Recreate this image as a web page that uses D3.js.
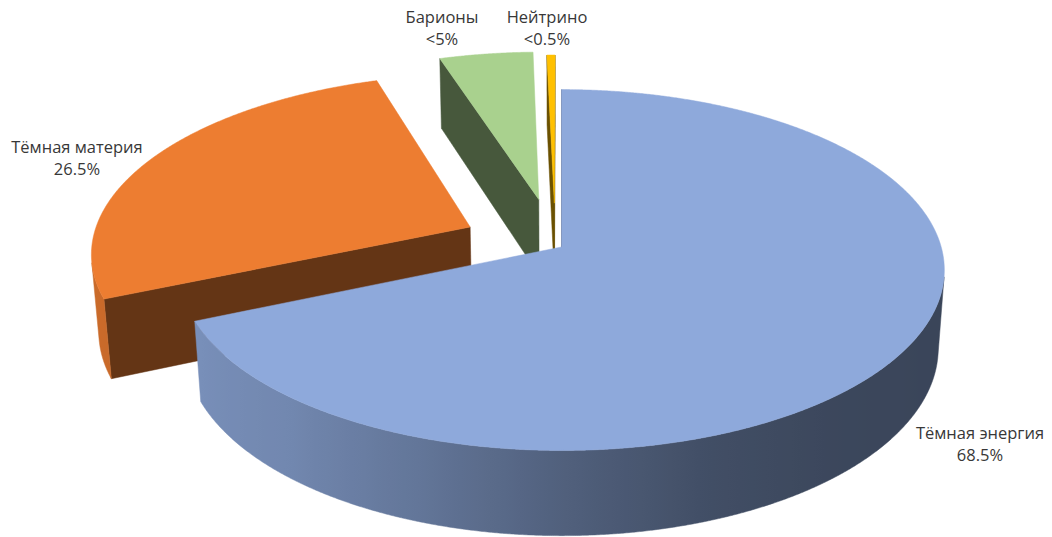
<!DOCTYPE html>
<html>
<head>
<meta charset="utf-8">
<script src="https://cdn.jsdelivr.net/npm/d3@7"></script>
<style>
  html, body { margin: 0; padding: 0; background: #ffffff; }
  svg { display: block; }
</style>
</head>
<body>
<svg id="chart" width="1052" height="537"></svg>
<script>
// ---- data ----
const categories  = ["Тёмная энергия", "Тёмная материя", "Барионы", "Нейтрино"];
const values      = [68.5, 26.5, 4.6, 0.4];
const valueLabels = ["68.5%", "26.5%", "<5%", "<0.5%"];

// ---- styling ----
const colors  = ["#8EA9DB", "#ED7D31", "#A9D18E", "#FFC000"];
const explode = [0.02, 0.25, 0.27, 0.244];           // offset of each slice, in radii
const labelAnchor = [[980, 439], [77, 153], [442, 23], [547, 23]];
const labelFont = "'Open Sans', 'Noto Sans', sans-serif";

// ---- 3D view (perspective camera looking down on the pie) ----
const view = {
  cx: 561, cy: 245,        // screen point of the camera axis
  k: 379,                  // pixels per radius at the pie centre depth
  tilt: Math.asin(0.467),  // elevation of the camera
  dist: 6.92,              // camera distance, in radii
  depth: 0.235,            // pie thickness, in radii
  offsetX: -0.015          // pie centre relative to the camera axis
};
const cosT = Math.cos(view.tilt), sinT = Math.sin(view.tilt);
const camera = [0, -view.dist * cosT, view.dist * sinT];

function project(x, y, z) {
  const yv = y * sinT + z * cosT;
  const zv = y * cosT - z * sinT;
  const p = view.dist / (view.dist + zv);
  return [view.cx + view.k * x * p, view.cy - view.k * yv * p];
}

function shade(color, f) {
  const c = d3.rgb(color);
  return d3.rgb(c.r * f, c.g * f, c.b * f).formatHex();
}
// lighting of the curved rim, by outward normal direction (degrees clockwise from back)
const sideShade = d3.scaleLinear()
  .domain([90, 140, 160, 180, 200, 220, 247, 300])
  .range([0.40, 0.42, 0.46, 0.57, 0.70, 0.80, 0.85, 0.88])
  .clamp(true);
const cutShade = 0.42;

const svg = d3.select("#chart");
const defs = svg.append("defs");
const line = d3.line().curve(d3.curveLinearClosed);

const arcs = d3.pie().sort(null).value(d => d)(values);

const slices = arcs.map((a, i) => {
  const mid = (a.startAngle + a.endAngle) / 2;
  const half = (a.endAngle - a.startAngle) / 2;
  const ox = view.offsetX + explode[i] * Math.sin(mid);
  const oy = explode[i] * Math.cos(mid);
  const cd = 2 * Math.sin(half) / (3 * half);
  return { i, a0: a.startAngle, a1: a.endAngle, ox, oy, key: oy + cd * Math.cos(mid) };
});
// paint far slices first
slices.sort((p, q) => q.key - p.key);

function facing(n, P) {
  return n[0] * (camera[0] - P[0]) + n[1] * (camera[1] - P[1]) + n[2] * (camera[2] - P[2]) > 0;
}

const step = Math.PI / 720;
const h = view.depth;

slices.forEach(s => {
  const col = colors[s.i];
  const g = svg.append("g").attr("class", "slice slice-" + s.i);
  const rim = (a, z) => project(s.ox + Math.sin(a), s.oy + Math.cos(a), z);
  const apex = z => project(s.ox, s.oy, z);

  // radial cut faces
  [[s.a0, [-Math.cos(s.a0), Math.sin(s.a0), 0]],
   [s.a1, [Math.cos(s.a1), -Math.sin(s.a1), 0]]].forEach(([a, n]) => {
    const P = [s.ox + 0.5 * Math.sin(a), s.oy + 0.5 * Math.cos(a), -h / 2];
    if (!facing(n, P)) return;
    const c = shade(col, cutShade);
    g.append("path")
      .attr("d", line([apex(0), rim(a, 0), rim(a, -h), apex(-h)]))
      .attr("fill", c).attr("stroke", c).attr("stroke-width", 0.5).attr("stroke-linejoin", "round");
  });

  // curved outer rim: collect runs of angles that face the camera
  const angles = d3.range(s.a0, s.a1, step).concat([s.a1]);
  const runs = [];
  let cur = null;
  angles.forEach(a => {
    const P = [s.ox + Math.sin(a), s.oy + Math.cos(a), -h / 2];
    const ok = facing([Math.sin(a), Math.cos(a), 0], P);
    if (ok) { if (!cur) { cur = []; runs.push(cur); } cur.push(a); }
    else cur = null;
  });
  runs.forEach((run, r) => {
    if (run.length < 2) return;
    const top = run.map(a => rim(a, 0));
    const bot = run.map(a => rim(a, -h)).reverse();
    const xs = top.map(p => p[0]);
    const x0 = d3.min(xs), x1 = d3.max(xs);
    const id = "rim-" + s.i + "-" + r;
    const grad = defs.append("linearGradient").attr("id", id)
      .attr("gradientUnits", "userSpaceOnUse")
      .attr("x1", x0).attr("y1", 0).attr("x2", x1).attr("y2", 0);
    const stops = [];
    for (let j = 0; j < run.length; j += 8) stops.push(j);
    if (stops[stops.length - 1] !== run.length - 1) stops.push(run.length - 1);
    stops.map(j => ({
      off: x1 > x0 ? (top[j][0] - x0) / (x1 - x0) : 0,
      c: shade(col, sideShade(run[j] * 180 / Math.PI))
    }))
      .sort((p, q) => p.off - q.off)
      .forEach(st => grad.append("stop").attr("offset", st.off).attr("stop-color", st.c));
    g.append("path")
      .attr("d", line(top.concat(bot)))
      .attr("fill", "url(#" + id + ")")
      .attr("stroke", "url(#" + id + ")").attr("stroke-width", 0.5);
  });

  // top face
  const topPts = [apex(0)].concat(angles.map(a => rim(a, 0)));
  g.append("path")
    .attr("d", line(topPts))
    .attr("fill", col).attr("stroke", col).attr("stroke-width", 0.5).attr("stroke-linejoin", "round");
});

// ---- data labels ----
const labels = svg.append("g").attr("class", "labels")
  .attr("font-family", labelFont).attr("font-size", 16.5).attr("fill", "#383838")
  .attr("text-anchor", "middle");
categories.forEach((name, i) => {
  const t = labels.append("text")
    .attr("x", labelAnchor[i][0]).attr("y", labelAnchor[i][1]);
  t.append("tspan").attr("x", labelAnchor[i][0]).text(name);
  t.append("tspan").attr("x", labelAnchor[i][0]).attr("dy", 21.5).text(valueLabels[i]);
});
</script>
</body>
</html>
